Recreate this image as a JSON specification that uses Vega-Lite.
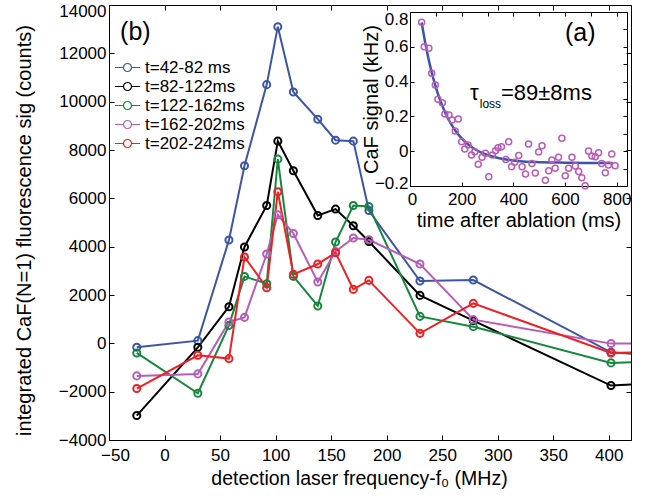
{
  "$schema": "https://vega.github.io/schema/vega-lite/v6.json",
  "width": 522,
  "height": 435,
  "autosize": {"type": "none"},
  "padding": {"left": 109, "top": 5, "right": 15, "bottom": 59},
  "background": "white",
  "config": {
    "view": {"stroke": null},
    "font": "Liberation Sans",
    "axis": {
      "grid": false,
      "domainColor": "black",
      "tickColor": "black",
      "labelColor": "black",
      "titleColor": "black",
      "labelFont": "Liberation Sans",
      "titleFont": "Liberation Sans",
      "labelFontSize": 17,
      "titleFontSize": 20,
      "titleFontWeight": "normal",
      "labelFlush": false,
      "domainWidth": 1,
      "tickWidth": 1
    },
    "legend": {
      "orient": "none", "legendX": 10, "legendY": 54, "title": null, "padding": 0,
      "symbolType": "M-5,0L-1.6,0M1.6,0L5,0M1.6,0A1.6,1.6,0,1,1,-1.6,0A1.6,1.6,0,1,1,1.6,0",
      "symbolSize": 25, "symbolStrokeWidth": 1.2,
      "labelFont": "Liberation Sans", "labelFontSize": 17, "labelColor": "black",
      "labelOffset": 9, "rowPadding": 1
    }
  },
  "datasets": {
    "main": [
      {"series": "t=42-82 ms", "f": -25, "counts": -165},
      {"series": "t=42-82 ms", "f": 30, "counts": 112},
      {"series": "t=42-82 ms", "f": 58, "counts": 4274},
      {"series": "t=42-82 ms", "f": 72, "counts": 7345},
      {"series": "t=42-82 ms", "f": 92, "counts": 10705},
      {"series": "t=42-82 ms", "f": 102, "counts": 13103},
      {"series": "t=42-82 ms", "f": 116, "counts": 10403},
      {"series": "t=42-82 ms", "f": 138, "counts": 9275},
      {"series": "t=42-82 ms", "f": 154, "counts": 8407},
      {"series": "t=42-82 ms", "f": 170, "counts": 8366},
      {"series": "t=42-82 ms", "f": 184, "counts": 5497},
      {"series": "t=42-82 ms", "f": 230, "counts": 2579},
      {"series": "t=42-82 ms", "f": 278, "counts": 2620},
      {"series": "t=42-82 ms", "f": 402, "counts": -372},
      {"series": "t=42-82 ms", "f": 420, "counts": -426},
      {"series": "t=82-122ms", "f": -25, "counts": -2988},
      {"series": "t=82-122ms", "f": 30, "counts": -165},
      {"series": "t=82-122ms", "f": 58, "counts": 1517},
      {"series": "t=82-122ms", "f": 72, "counts": 3988},
      {"series": "t=82-122ms", "f": 92, "counts": 5704},
      {"series": "t=82-122ms", "f": 102, "counts": 8366},
      {"series": "t=82-122ms", "f": 116, "counts": 7138},
      {"series": "t=82-122ms", "f": 138, "counts": 5291},
      {"series": "t=82-122ms", "f": 154, "counts": 5555},
      {"series": "t=82-122ms", "f": 170, "counts": 4865},
      {"series": "t=82-122ms", "f": 184, "counts": 4216},
      {"series": "t=82-122ms", "f": 230, "counts": 1984},
      {"series": "t=82-122ms", "f": 278, "counts": 938},
      {"series": "t=82-122ms", "f": 402, "counts": -1748},
      {"series": "t=82-122ms", "f": 420, "counts": -1707},
      {"series": "t=122-162ms", "f": -25, "counts": -397},
      {"series": "t=122-162ms", "f": 30, "counts": -2067},
      {"series": "t=122-162ms", "f": 58, "counts": 744},
      {"series": "t=122-162ms", "f": 72, "counts": 2769},
      {"series": "t=122-162ms", "f": 92, "counts": 2468},
      {"series": "t=122-162ms", "f": 102, "counts": 7622},
      {"series": "t=122-162ms", "f": 116, "counts": 2769},
      {"series": "t=122-162ms", "f": 138, "counts": 1546},
      {"series": "t=122-162ms", "f": 154, "counts": 4191},
      {"series": "t=122-162ms", "f": 170, "counts": 5704},
      {"series": "t=122-162ms", "f": 184, "counts": 5663},
      {"series": "t=122-162ms", "f": 230, "counts": 1116},
      {"series": "t=122-162ms", "f": 278, "counts": 690},
      {"series": "t=122-162ms", "f": 402, "counts": -810},
      {"series": "t=122-162ms", "f": 420, "counts": -785},
      {"series": "t=162-202ms", "f": -25, "counts": -1347},
      {"series": "t=162-202ms", "f": 30, "counts": -1265},
      {"series": "t=162-202ms", "f": 58, "counts": 884},
      {"series": "t=162-202ms", "f": 72, "counts": 1075},
      {"series": "t=162-202ms", "f": 92, "counts": 3695},
      {"series": "t=162-202ms", "f": 102, "counts": 5319},
      {"series": "t=162-202ms", "f": 116, "counts": 4547},
      {"series": "t=162-202ms", "f": 138, "counts": 2538},
      {"series": "t=162-202ms", "f": 154, "counts": 3803},
      {"series": "t=162-202ms", "f": 170, "counts": 4356},
      {"series": "t=162-202ms", "f": 184, "counts": 4286},
      {"series": "t=162-202ms", "f": 230, "counts": 3282},
      {"series": "t=162-202ms", "f": 278, "counts": 980},
      {"series": "t=162-202ms", "f": 402, "counts": -12},
      {"series": "t=162-202ms", "f": 420, "counts": -12},
      {"series": "t=202-242ms", "f": -25, "counts": -1872},
      {"series": "t=202-242ms", "f": 30, "counts": -496},
      {"series": "t=202-242ms", "f": 58, "counts": -632},
      {"series": "t=202-242ms", "f": 72, "counts": 3571},
      {"series": "t=202-242ms", "f": 92, "counts": 2302},
      {"series": "t=202-242ms", "f": 102, "counts": 6270},
      {"series": "t=202-242ms", "f": 116, "counts": 2852},
      {"series": "t=202-242ms", "f": 138, "counts": 3282},
      {"series": "t=202-242ms", "f": 154, "counts": 3749},
      {"series": "t=202-242ms", "f": 170, "counts": 2232},
      {"series": "t=202-242ms", "f": 184, "counts": 2604},
      {"series": "t=202-242ms", "f": 230, "counts": 413},
      {"series": "t=202-242ms", "f": 278, "counts": 1653},
      {"series": "t=202-242ms", "f": 402, "counts": -397},
      {"series": "t=202-242ms", "f": 420, "counts": -384}
    ],
    "inset": [
      {"t": 45, "signal": 0.741}, {"t": 55, "signal": 0.601}, {"t": 73, "signal": 0.591},
      {"t": 84, "signal": 0.448}, {"t": 98, "signal": 0.38}, {"t": 108, "signal": 0.298},
      {"t": 125, "signal": 0.279}, {"t": 135, "signal": 0.214}, {"t": 151, "signal": 0.208},
      {"t": 163, "signal": 0.179}, {"t": 175, "signal": 0.116}, {"t": 187, "signal": 0.185},
      {"t": 200, "signal": 0.055}, {"t": 212, "signal": 0.013}, {"t": 225, "signal": 0.036},
      {"t": 238, "signal": -0.022}, {"t": 251, "signal": -0.003}, {"t": 264, "signal": -0.075},
      {"t": 279, "signal": -0.035}, {"t": 292, "signal": -0.012}, {"t": 305, "signal": -0.147},
      {"t": 319, "signal": -0.022}, {"t": 331, "signal": 0.003}, {"t": 341, "signal": 0.02},
      {"t": 354, "signal": 0.026}, {"t": 371, "signal": -0.047}, {"t": 382, "signal": 0.055},
      {"t": 393, "signal": -0.089}, {"t": 405, "signal": -0.064}, {"t": 421, "signal": -0.024},
      {"t": 434, "signal": -0.089}, {"t": 447, "signal": -0.131}, {"t": 459, "signal": 0.041},
      {"t": 472, "signal": -0.07}, {"t": 485, "signal": -0.125}, {"t": 498, "signal": -0.005},
      {"t": 511, "signal": 0.032}, {"t": 524, "signal": -0.167}, {"t": 537, "signal": -0.112},
      {"t": 549, "signal": -0.051}, {"t": 562, "signal": -0.098}, {"t": 575, "signal": -0.035},
      {"t": 588, "signal": 0.074}, {"t": 601, "signal": -0.141}, {"t": 614, "signal": -0.098},
      {"t": 627, "signal": -0.035}, {"t": 640, "signal": -0.085}, {"t": 653, "signal": -0.116},
      {"t": 665, "signal": -0.152}, {"t": 678, "signal": -0.198}, {"t": 691, "signal": 0.001},
      {"t": 704, "signal": -0.028}, {"t": 717, "signal": -0.032}, {"t": 730, "signal": -0.009},
      {"t": 742, "signal": -0.07}, {"t": 756, "signal": -0.124}, {"t": 768, "signal": -0.079},
      {"t": 781, "signal": -0.016}, {"t": 794, "signal": -0.083}
    ],
    "fit": [
      {"t": 45, "signal": 0.74}, {"t": 60, "signal": 0.615}, {"t": 75, "signal": 0.509},
      {"t": 90, "signal": 0.419}, {"t": 105, "signal": 0.344}, {"t": 120, "signal": 0.28},
      {"t": 140, "signal": 0.21}, {"t": 160, "signal": 0.154}, {"t": 180, "signal": 0.109},
      {"t": 200, "signal": 0.074}, {"t": 225, "signal": 0.039}, {"t": 250, "signal": 0.013},
      {"t": 275, "signal": -0.007}, {"t": 300, "signal": -0.022}, {"t": 350, "signal": -0.042},
      {"t": 400, "signal": -0.053}, {"t": 450, "signal": -0.06}, {"t": 500, "signal": -0.063},
      {"t": 550, "signal": -0.065}, {"t": 600, "signal": -0.066}, {"t": 700, "signal": -0.068},
      {"t": 785, "signal": -0.068}
    ]
  },
  "layer": [
    {
      "data": {"name": "main"},
      "layer": [
        {
          "mark": {"type": "line", "strokeWidth": 2},
          "encoding": {
            "x": {"field": "f", "type": "quantitative",
              "scale": {"domain": [-50, 420], "nice": false, "zero": false},
              "axis": {"orient": "top", "labels": false, "title": null, "tickSize": -5,
                "values": [-50, 0, 50, 100, 150, 200, 250, 300, 350, 400]}},
            "y": {"field": "counts", "type": "quantitative",
              "scale": {"domain": [-4000, 14000], "nice": false, "zero": false},
              "axis": {"orient": "right", "labels": false, "title": null, "tickSize": -5,
                "values": [-4000, -2000, 0, 2000, 4000, 6000, 8000, 10000, 12000, 14000]}},
            "color": {"field": "series", "type": "nominal",
              "scale": {"domain": ["t=42-82 ms", "t=82-122ms", "t=122-162ms", "t=162-202ms", "t=202-242ms"],
                "range": ["#3C55A5", "#000000", "#17873F", "#B65DB8", "#ED2024"]},
              "legend": {"orient": "none", "legendX": 10, "legendY": 54}}
          }
        },
        {
          "transform": [{"filter": "datum.f < 410"}],
          "mark": {"type": "point", "filled": false, "size": 50, "strokeWidth": 2, "opacity": 1},
          "encoding": {
            "x": {"field": "f", "type": "quantitative",
              "axis": {"orient": "bottom", "format": "d", "tickSize": -5, "labelPadding": 12, "titlePadding": 6,
                "title": "detection laser frequency-f₀ (MHz)", "titleFontSize": 19.5, "titleX": 250,
                "values": [-50, 0, 50, 100, 150, 200, 250, 300, 350, 400],
                "labelOffset": {"condition": {"test": "datum.value == -50", "value": 6}, "value": 0}}},
            "y": {"field": "counts", "type": "quantitative",
              "axis": {"orient": "left", "format": "d", "tickSize": -5, "labelPadding": 8, "titlePadding": 24,
                "title": "integrated CaF(N=1) fluorescence sig (counts)", "titleY": 225,
                "values": [-4000, -2000, 0, 2000, 4000, 6000, 8000, 10000, 12000, 14000],
                "labelOffset": {"condition": {"test": "datum.value == 14000", "value": 6}, "value": 0}}},
            "color": {"field": "series", "type": "nominal",
              "legend": {"orient": "none", "legendX": 10, "legendY": 54}}
          }
        },
        {
          "data": {"values": [{}]},
          "mark": {"type": "text", "text": "(b)", "align": "left", "baseline": "middle", "fontSize": 25, "font": "Liberation Sans", "color": "black"},
          "encoding": {
            "x": {"datum": -40, "type": "quantitative", "axis": null},
            "y": {"datum": 12900, "type": "quantitative", "axis": null}
          }
        }
      ],
      "resolve": {"axis": {"x": "independent", "y": "independent"}}
    },
    {
      "layer": [
        {
          "data": {"name": "fit"},
          "mark": {"type": "line", "color": "#3C55A5", "strokeWidth": 2.5, "interpolate": "monotone"},
          "encoding": {
            "x": {"field": "t", "type": "quantitative",
              "scale": {"domain": [0, 840], "range": [301, 518], "nice": false, "zero": false},
              "axis": {"orient": "top", "offset": -7, "labels": false, "title": null, "tickSize": -4,
                "values": [0, 100, 200, 300, 400, 500, 600, 700, 800]}},
            "y": {"field": "signal", "type": "quantitative",
              "scale": {"domain": [-0.2, 0.8], "range": [181, 7], "nice": false, "zero": false},
              "axis": {"orient": "right", "offset": -4, "labels": false, "title": null, "tickSize": -4,
                "values": [-0.2, -0.1, 0, 0.1, 0.2, 0.3, 0.4, 0.5, 0.6, 0.7, 0.8]}}
          }
        },
        {
          "data": {"name": "inset"},
          "mark": {"type": "point", "filled": false, "size": 36, "strokeWidth": 1.5, "color": "#BA5BB8", "opacity": 1},
          "encoding": {
            "x": {"field": "t", "type": "quantitative",
              "axis": {"orient": "bottom", "offset": -254, "format": "d", "tickSize": -4, "labelPadding": 9, "titlePadding": 3,
                "title": "time after ablation (ms)", "values": [0, 200, 400, 600, 800],
                "labelOffset": {"condition": {"test": "datum.value == 0", "value": 2}, "value": 0}}},
            "y": {"field": "signal", "type": "quantitative",
              "axis": {"orient": "left", "offset": -301, "format": ".1~f", "tickSize": -4, "labelPadding": 6,
                "title": "CaF signal (kHz)", "titleX": -39, "titleY": 94, "titleBaseline": "middle", "titleAngle": -90,
                "values": [-0.2, 0, 0.2, 0.4, 0.6, 0.8],
                "labelOffset": {"condition": [{"test": "datum.value == 0.8", "value": 7}, {"test": "datum.value == -0.2", "value": -3}], "value": 0}}}
          }
        },
        {
          "data": {"values": [{}]},
          "mark": {"type": "text", "text": "(a)", "align": "left", "baseline": "middle", "fontSize": 25, "font": "Liberation Sans", "color": "black"},
          "encoding": {
            "x": {"datum": 600, "type": "quantitative", "axis": null},
            "y": {"datum": 0.679, "type": "quantitative", "axis": null}
          }
        },
        {
          "data": {"values": [{}]},
          "mark": {"type": "text", "text": "τ", "align": "left", "baseline": "alphabetic", "fontSize": 22, "font": "Liberation Sans", "color": "black"},
          "encoding": {
            "x": {"datum": 232, "type": "quantitative", "axis": null},
            "y": {"datum": 0.296, "type": "quantitative", "axis": null}
          }
        },
        {
          "data": {"values": [{}]},
          "mark": {"type": "text", "text": "loss", "align": "left", "baseline": "alphabetic", "fontSize": 12, "font": "Liberation Sans", "color": "black"},
          "encoding": {
            "x": {"datum": 270, "type": "quantitative", "axis": null},
            "y": {"datum": 0.249, "type": "quantitative", "axis": null}
          }
        },
        {
          "data": {"values": [{}]},
          "mark": {"type": "text", "text": "=89±8ms", "align": "left", "baseline": "alphabetic", "fontSize": 22, "font": "Liberation Sans", "color": "black"},
          "encoding": {
            "x": {"datum": 352, "type": "quantitative", "axis": null},
            "y": {"datum": 0.296, "type": "quantitative", "axis": null}
          }
        }
      ],
      "resolve": {"axis": {"x": "independent", "y": "independent"}}
    }
  ],
  "resolve": {"scale": {"x": "independent", "y": "independent", "color": "independent"}}
}
